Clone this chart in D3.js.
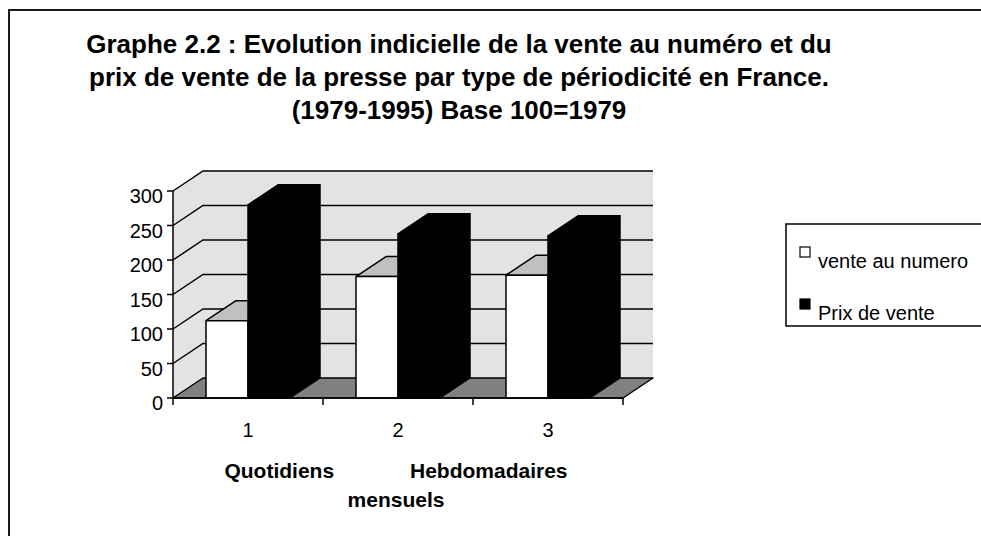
<!DOCTYPE html>
<html>
<head>
<meta charset="utf-8">
<script src="https://cdn.jsdelivr.net/npm/d3@7"></script>
<style>
  html, body { margin: 0; padding: 0; background: #fff; }
  svg { display: block; }
  text { font-family: "Liberation Sans", Arial, sans-serif; fill: #000; }
</style>
</head>
<body>
<svg id="chart" width="981" height="536"></svg>
<script>
// ---- data ----
const titleLines = [
  "Graphe 2.2 : Evolution indicielle de la vente au numéro et du",
  "prix de vente de la presse par type de périodicité en France.",
  "(1979-1995) Base 100=1979"
];
const categories = ["1", "2", "3"];
const seriesNames = ["vente au numero", "Prix de vente"];
const venteAuNumero = [112, 176, 178];
const prixDeVente = [280, 238, 235];
const yTicks = [0, 50, 100, 150, 200, 250, 300];
const xTitleLines = ["Quotidiens             Hebdomadaires", "mensuels"];

// ---- layout ----
const svg = d3.select("#chart");
const W = 981, H = 536;
const dx = 30, dy = -20;               // 3D depth offset
const x0 = d3.scaleBand().domain(categories).range([173, 623]).padding(0);
const x1 = d3.scaleBand().domain(seriesNames).range([0, x0.bandwidth()]).paddingInner(0).paddingOuter(0.786);
const y = d3.scaleLinear().domain([0, 300]).range([398, 191]);
const seriesVals = [venteAuNumero, prixDeVente];
const faceColors = [
  {front: "#ffffff", top: "#c0c0c0", side: "#808080"},
  {front: "#000000", top: "#000000", side: "#000000"}
];

// outer frame
svg.append("rect").attr("x", 9).attr("y", 10).attr("width", 1100).attr("height", 700)
  .attr("fill", "none").attr("stroke", "#1a1a1a").attr("stroke-width", 2);

// title
svg.append("g").selectAll("text").data(titleLines).join("text")
  .attr("x", 459).attr("y", (d, i) => 53 + i * 33)
  .attr("text-anchor", "middle").attr("font-size", 26).attr("font-weight", "bold")
  .text(d => d);

const xL = x0.range()[0], xR = x0.range()[1];
const y0 = y(0), yTop = y(300);

// walls
const wall = svg.append("g");
wall.append("path")
  .attr("d", `M${xL},${y0}L${xL},${yTop}L${xL+dx},${yTop+dy}L${xR+dx},${yTop+dy}L${xR+dx},${y0+dy}L${xL+dx},${y0+dy}Z`)
  .attr("fill", "#e3e3e3").attr("stroke", "none");

// gridlines
const grid = svg.append("g").attr("stroke", "#000").attr("stroke-width", 1.5).attr("fill", "none");
yTicks.filter(v => v > 0).forEach(v => {
  grid.append("path").attr("d", `M${xL},${y(v)}L${xL+dx},${y(v)+dy}L${xR+dx},${y(v)+dy}`);
});

// floor
svg.append("path")
  .attr("d", `M${xL},${y0}L${xL+dx},${y0+dy}L${xR+dx},${y0+dy}L${xR},${y0}Z`)
  .attr("fill", "#808080").attr("stroke", "#000").attr("stroke-width", 1.5).attr("stroke-linejoin", "round");

// bars
const barsG = svg.append("g").attr("stroke", "#000").attr("stroke-width", 1.5).attr("stroke-linejoin", "round");
categories.forEach((c, ci) => {
  seriesNames.forEach((s, si) => {
    const v = seriesVals[si][ci];
    const bx = x0(c) + x1(s), bw = x1.bandwidth();
    const yv = y(v);
    const col = faceColors[si];
    const g = barsG.append("g");
    g.append("path").attr("d", `M${bx+bw},${yv}L${bx+bw+dx},${yv+dy}L${bx+bw+dx},${y0+dy}L${bx+bw},${y0}Z`).attr("fill", col.side);
    g.append("path").attr("d", `M${bx},${yv}L${bx+dx},${yv+dy}L${bx+bw+dx},${yv+dy}L${bx+bw},${yv}Z`).attr("fill", col.top);
    g.append("rect").attr("x", bx).attr("y", yv).attr("width", bw).attr("height", y0 - yv).attr("fill", col.front);
  });
});

// y axis
const yAxis = svg.append("g");
yAxis.append("line").attr("x1", xL).attr("x2", xL).attr("y1", yTop).attr("y2", y0)
  .attr("stroke", "#000").attr("stroke-width", 1.5);
yTicks.forEach(v => {
  yAxis.append("line").attr("x1", xL - 6).attr("x2", xL).attr("y1", y(v)).attr("y2", y(v))
    .attr("stroke", "#000").attr("stroke-width", 1.5);
  yAxis.append("text").attr("x", 163).attr("y", y(v) + 12).attr("text-anchor", "end")
    .attr("font-size", 20).text(v);
});

// x axis
const xAxis = svg.append("g");
xAxis.append("line").attr("x1", xL).attr("x2", xR).attr("y1", y0).attr("y2", y0)
  .attr("stroke", "#000").attr("stroke-width", 1.5);
const tickXs = categories.map(c => x0(c)).concat([xR]);
tickXs.forEach(tx => {
  xAxis.append("line").attr("x1", tx).attr("x2", tx).attr("y1", y0).attr("y2", y0 + 7)
    .attr("stroke", "#000").attr("stroke-width", 1.5);
});
categories.forEach(c => {
  xAxis.append("text").attr("x", x0(c) + x0.bandwidth() / 2).attr("y", 437)
    .attr("text-anchor", "middle").attr("font-size", 20).text(c);
});

// x title
svg.append("g").selectAll("text").data(xTitleLines).join("text")
  .attr("x", 396).attr("y", (d, i) => 478 + i * 29)
  .attr("text-anchor", "middle").attr("font-size", 21).attr("font-weight", "bold")
  .style("white-space", "pre").attr("xml:space", "preserve")
  .text(d => d);

// legend
const leg = svg.append("g");
leg.append("rect").attr("x", 786).attr("y", 224).attr("width", 300).attr("height", 102)
  .attr("fill", "#fff").attr("stroke", "#000").attr("stroke-width", 1.5);
const legBase = [268, 320];
seriesNames.forEach((s, i) => {
  leg.append("rect").attr("x", 800).attr("y", legBase[i] - 21).attr("width", 10).attr("height", 10)
    .attr("fill", faceColors[i].front).attr("stroke", "#000").attr("stroke-width", 1.2);
  leg.append("text").attr("x", 818).attr("y", legBase[i]).attr("font-size", 20).text(s);
});
</script>
</body>
</html>
